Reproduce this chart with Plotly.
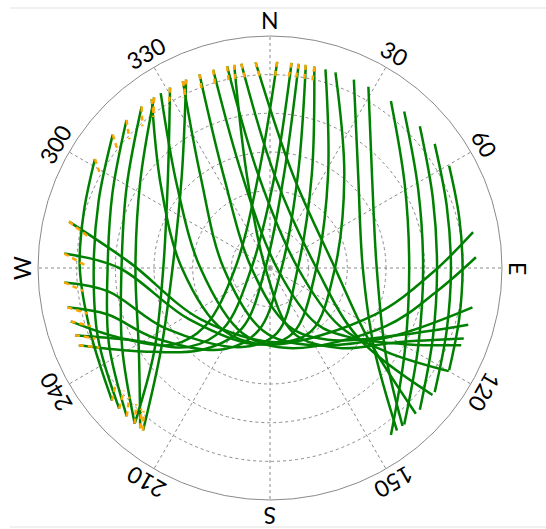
import math
import plotly.graph_objects as go

# ---- satellite tracks: azimuth (deg, clockwise from N) and elevation (deg) ----
W1_AZ = [325.8, 303.5, 270, 238, 219]; W1_EL = [10, 29.6, 37.8, 30, 10]
W2_AZ = [321.5, 299.5, 270, 242, 221]; W2_EL = [10, 26.1, 32.4, 25, 10]
W3_AZ = [315.9, 295.2, 270, 245, 224]; W3_EL = [10, 22.4, 27, 21, 10]
W4_AZ = [310.3, 291.4, 270, 248, 227]; W4_EL = [10, 18.6, 21.6, 18, 10]
W5_AZ = [301.9, 286.6, 270, 250, 230]; W5_EL = [10, 14.6, 16.2, 16, 10]

E1_AZ = [35.9, 58.2, 90, 121.8, 144.1]; E1_EL = [10, 28.5, 36, 28.5, 10]
E2_AZ = [40.6, 62, 90, 118, 139.4]; E2_EL = [10, 24.9, 30.6, 24.9, 10]
E3_AZ = [46.6, 66.9, 90, 113.1, 133.4]; E3_EL = [10, 21.3, 25.2, 21.3, 10]
E4_AZ = [53, 70.5, 90, 109.5, 127]; E4_EL = [10, 17.3, 19.8, 17.3, 10]
E5_AZ = [60.3, 74.9, 90, 105.1, 119.7]; E5_EL = [10, 14, 15.3, 14, 10]

A1_AZ = [325, 306.7, 270, 216.5, 180, 114.2, 91.7, 80]; A1_EL = [10, 37.3, 55.8, 59.8, 60.3, 45.6, 27, 10]
A2_AZ = [328, 311.2, 270, 203.2, 166.9, 116.6, 97.9, 87]; A2_EL = [10, 42.2, 63, 62.6, 58.1, 39.7, 24.6, 10]
A3_AZ = [335, 323.1, 270, 186.3, 155.6, 121, 101]; A3_EL = [10, 45, 72, 65.5, 57.4, 37.5, 10]
A4_AZ = [340, 333.4, 270, 162.3, 141.1, 117.8, 106]; A4_EL = [10, 49.7, 82.8, 66.4, 54.2, 34, 10]
A5_AZ = [344, 343.3, 90, 140.2, 130.6, 118.8, 112]; A5_EL = [10, 52.4, 87.3, 61.9, 48.5, 28.4, 10]
A6_AZ = [348, 352.9, 90, 129.8, 125.8, 120]; A6_EL = [10, 53.7, 79.2, 54.9, 34.6, 10]
A7_AZ = [352, 2.9, 90, 128.3, 128]; A7_EL = [10, 54, 72, 46.4, 10]
A8_AZ = [356, 14, 90, 125.5, 135]; A8_EL = [10, 52.9, 64.8, 43.6, 10]
A9_AZ = [350, 346, 270, 160.3, 139, 120.2, 110]; A9_EL = [10, 52.9, 88.2, 63.3, 48.9, 32.8, 10]

B1_AZ = [2, 352.9, 270, 228.2, 231.8, 245.2, 255]; B1_EL = [10, 53.7, 76.5, 56.2, 41.9, 25.6, 10]
B2_AZ = [6, 2.9, 270, 217.6, 225.8, 242.7, 251]; B2_EL = [10, 54, 82.8, 60.5, 46.1, 29.2, 10]
B3_AZ = [8, 8.5, 270, 204.8, 218.7, 236.8, 248]; B3_EL = [10, 53.6, 88.2, 64.3, 49.7, 30.9, 10]
B4_AZ = [10, 16.7, 90, 190.5, 209.7, 239, 254, 259]; B4_EL = [10, 52.4, 85.5, 65.3, 53.7, 37.5, 24.5, 10]
B5_AZ = [12.4, 24.2, 90, 173.9, 199.4, 240, 261.9, 266]; B5_EL = [10, 50.5, 79.2, 64.6, 57.5, 43.2, 26.4, 10]
B6_AZ = [15.6, 32, 90, 160.3, 188.6, 237.8, 270, 274]; B6_EL = [10, 47.5, 72, 63.3, 60, 52.8, 31.5, 10]
B7_AZ = [18.5, 38.7, 90, 146.3, 174.6, 233.7, 271.9, 283]; B7_EL = [10, 43.9, 64.8, 60.8, 61.1, 56.5, 36, 10]

C1_AZ = [24, 43.5, 90, 127.9, 142]; C1_EL = [10, 40.3, 54, 38.7, 10]
C2_AZ = [28.5, 47.7, 90, 127.2, 140]; C2_EL = [10, 36.5, 48.6, 33.5, 10]
D1_AZ = [336, 316.5, 270, 233.3, 218]; D1_EL = [10, 40.3, 52.2, 37.3, 10]
D2_AZ = [331, 312.3, 270, 234.2, 221]; D2_EL = [10, 36.5, 48.6, 34.6, 10]

# ---- low-elevation (flagged) segments, drawn in orange ----
LOW_AZ0 = [325.8, 321.5, 315.9, 310.3, 301.9, 219, 221, 224, 227, 230,
           325, 335, 340, 344, 348, 352, 356, 350,
           2, 6, 8, 10, 12.4, 255, 251, 248, 259, 266, 274, 283,
           336, 331, 218]
LOW_AZ1 = [322.3, 318, 312.5, 307.3, 299.4, 222.5, 224.5, 227.5, 230, 233,
           322.5, 333.7, 339, 343.3, 347.5, 352.5, 357, 349.5,
           1.5, 5.5, 7.8, 10.3, 12.8, 252, 248, 245, 256, 263, 271, 280,
           333, 328, 221.5]
LOW_EL0 = [10] * 33
LOW_EL1 = [16, 16, 16, 16, 14, 16, 16, 16, 16, 15,
           16, 16, 16, 16, 16, 16, 16, 16,
           16, 16, 16, 16, 16, 17, 17, 17, 17, 17, 18, 18,
           16, 16, 16]

# ---- axis labels ----
LABEL_AZ = [0, 30, 60, 90, 120, 150, 180, 210, 240, 270, 300, 330]
LABEL_TEXT = ["N", "30", "60", "E", "120", "150", "S", "210", "240", "W", "300", "330"]
RING_EL = [15, 30, 45, 60, 75]

TRACKS = [
    (W1_AZ, W1_EL), (W2_AZ, W2_EL), (W3_AZ, W3_EL), (W4_AZ, W4_EL), (W5_AZ, W5_EL),
    (E1_AZ, E1_EL), (E2_AZ, E2_EL), (E3_AZ, E3_EL), (E4_AZ, E4_EL), (E5_AZ, E5_EL),
    (A1_AZ, A1_EL), (A2_AZ, A2_EL), (A3_AZ, A3_EL), (A4_AZ, A4_EL), (A5_AZ, A5_EL),
    (A6_AZ, A6_EL), (A7_AZ, A7_EL), (A8_AZ, A8_EL), (A9_AZ, A9_EL),
    (B1_AZ, B1_EL), (B2_AZ, B2_EL), (B3_AZ, B3_EL), (B4_AZ, B4_EL), (B5_AZ, B5_EL),
    (B6_AZ, B6_EL), (B7_AZ, B7_EL),
    (C1_AZ, C1_EL), (C2_AZ, C2_EL), (D1_AZ, D1_EL), (D2_AZ, D2_EL),
]

W, H = 546, 529
CX, CY, R = 270, 268, 232  # plot centre and radius in pixels

fig = go.Figure()
for az, el in TRACKS:
    fig.add_trace(go.Scatterpolar(
        theta=az, r=el, mode="lines",
        line=dict(color="#008000", width=2.5, shape="spline", smoothing=1.0),
        hoverinfo="skip", showlegend=False))

for a0, a1, e0, e1 in zip(LOW_AZ0, LOW_AZ1, LOW_EL0, LOW_EL1):
    fig.add_trace(go.Scatterpolar(
        theta=[a0, a1], r=[e0, e1], mode="lines",
        line=dict(color="#FFA500", width=2.5, dash="5px,4px"),
        hoverinfo="skip", showlegend=False))

annotations = []
for az, txt in zip(LABEL_AZ, LABEL_TEXT):
    d = R + 16
    px = CX + d * math.sin(math.radians(az))
    py = CY - d * math.cos(math.radians(az))
    ang = az if az <= 180 else az - 360
    annotations.append(dict(
        x=px / W, y=1 - py / H, xref="paper", yref="paper",
        text=txt, showarrow=False, textangle=ang,
        xanchor="center", yanchor="middle",
        font=dict(family="Lato, Open Sans, sans-serif", size=23, color="black")))

fig.update_layout(
    width=W, height=H,
    margin=dict(l=0, r=0, t=0, b=0),
    paper_bgcolor="white",
    showlegend=False,
    annotations=annotations,
    shapes=[
        dict(type="line", xref="paper", yref="paper", x0=10 / W, x1=1, y0=1 - 8 / H, y1=1 - 8 / H,
             line=dict(color="#e2e2e2", width=1)),
        dict(type="line", xref="paper", yref="paper", x0=10 / W, x1=1, y0=1 - 527 / H, y1=1 - 527 / H,
             line=dict(color="#e2e2e2", width=1)),
    ],
    polar=dict(
        domain=dict(x=[(CX - R) / W, (CX + R) / W], y=[1 - (CY + R) / H, 1 - (CY - R) / H]),
        bgcolor="white",
        radialaxis=dict(range=[90, 0], tickvals=RING_EL, showticklabels=False, ticks="",
                        showline=False, gridcolor="#8a8a8a", griddash="dot", gridwidth=1),
        angularaxis=dict(rotation=90, direction="clockwise", tickvals=list(range(0, 360, 30)),
                         showticklabels=False, ticks="", showline=True, linecolor="#8a8a8a",
                         linewidth=1, gridcolor="#8a8a8a", griddash="dot", gridwidth=1),
    ),
)

fig.write_html("out.html", config={"displayModeBar": False},
               post_script="document.body.style.margin='0';document.body.style.overflow='hidden';")
